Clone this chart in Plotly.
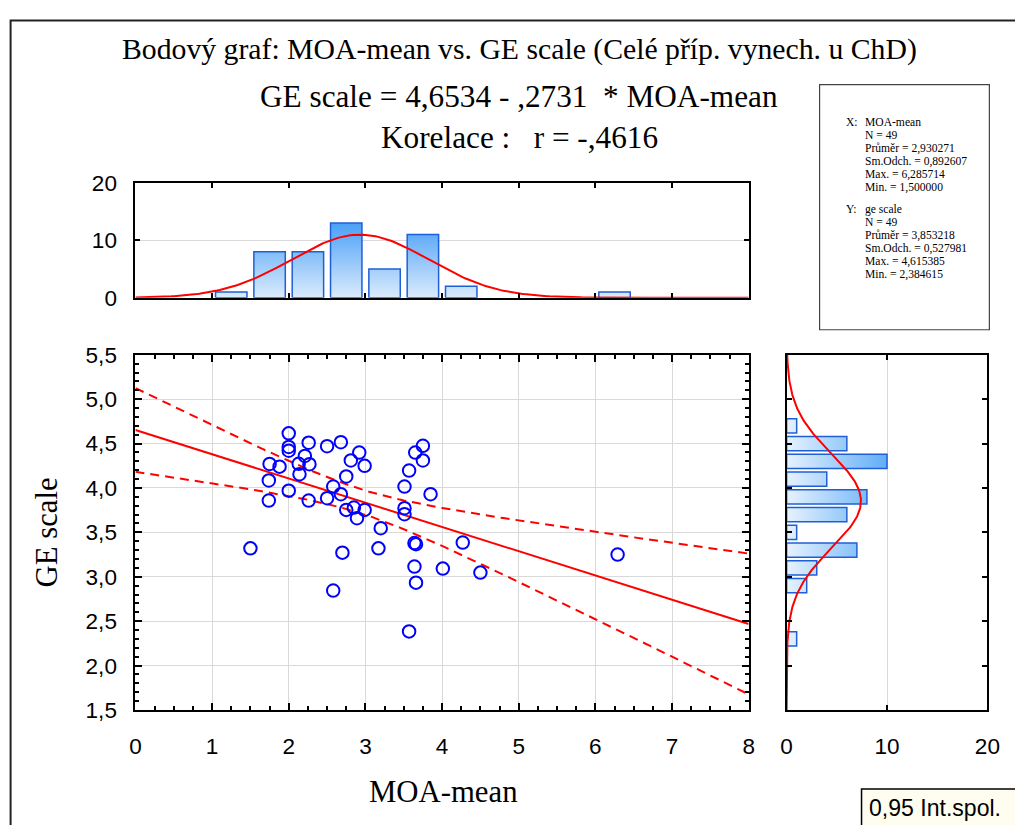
import numpy as np
import plotly.graph_objects as go

W, H = 1015, 825

# ---------------- data ----------------
moa_mean = [2.00, 2.00, 2.00, 2.26, 2.50, 2.68, 1.75, 1.88, 2.21, 2.13,
            2.27, 2.14, 1.74, 2.00, 1.74, 2.26, 2.50, 2.58, 2.68, 2.75,
            2.81, 2.75, 1.50, 2.70, 2.58, 2.92, 2.99, 2.85, 2.99, 2.89,
            3.20, 3.17, 3.75, 3.65, 3.75, 3.57, 3.51, 3.85, 3.51, 3.51,
            3.66, 3.64, 4.01, 4.27, 4.50, 3.66, 3.57, 6.29, 3.64]
ge_scale = [4.615, 4.462, 4.420, 4.510, 4.470, 4.515, 4.270, 4.240, 4.360, 4.272,
            4.268, 4.155, 4.085, 3.970, 3.858, 3.858, 3.885, 4.016, 3.930, 3.753,
            4.310, 4.130, 3.320, 3.272, 2.845, 4.399, 4.249, 3.780, 3.753, 3.660,
            3.547, 3.320, 4.475, 4.399, 4.310, 4.196, 4.016, 3.930, 3.772, 3.705,
            3.367, 3.115, 3.092, 3.385, 3.047, 2.934, 2.385, 3.250, 3.380]

# statistics shown in the box
N = 49
x_mean, x_sd, x_max, x_min = 2.930271, 0.892607, 6.285714, 1.500000
y_mean, y_sd, y_max, y_min = 3.853218, 0.527981, 4.615385, 2.384615
intercept, slope, r_corr = 4.6534, -0.2731, -0.4616
t_975 = 2.0117  # t(0.975; 47)

# histogram counts
x_bin_edges = [1.0, 1.5, 2.0, 2.5, 3.0, 3.5, 4.0, 4.5, 5.0, 5.5, 6.0, 6.5]
x_counts = [1, 8, 8, 13, 5, 11, 2, 0, 0, 0, 1]
y_bin_edges = [2.2, 2.4, 2.6, 2.8, 3.0, 3.2, 3.4, 3.6, 3.8, 4.0, 4.2, 4.4, 4.6, 4.8]
y_counts = [1, 0, 0, 2, 3, 7, 1, 6, 8, 4, 10, 6, 1]

x_ticks = [0, 1, 2, 3, 4, 5, 6, 7, 8]

# ---------------- layout helpers ----------------
# correction for how the page ends up in the photograph
AX, BX = 5.4, 0.9825
AY, BY = 12.5, 0.969
FS = 2 / (BX + BY)

def px(v):
    return ((v - AX) / BX) / W

def py(v):
    return 1 - ((v - AY) / BY) / H

def fs(v):
    return v * FS

def bar_polys(edges, counts, frac, horizontal=False):
    a_list, b_list = [], []
    for i, c in enumerate(counts):
        if c == 0:
            continue
        lo, hi = edges[i], edges[i + 1]
        m = (hi - lo) * (1 - frac) / 2
        a, b = lo + m, hi - m
        pos = [a, a, b, b, a, None]
        val = [0, c, c, 0, 0, None]
        if horizontal:
            a_list += val
            b_list += pos
        else:
            a_list += pos
            b_list += val
    return a_list, b_list

SANS = "Liberation Sans, Arial, sans-serif"
SERIF = "Liberation Serif, Times New Roman, serif"
RED = "#ff0000"
BLUE_EDGE = "#1f5fd6"
GRID = "#d9d9d9"

fig = go.Figure()

# ---------------- main scatter ----------------
xs = np.linspace(0, 8, 161)
yhat = intercept + slope * xs
s_res = y_sd * np.sqrt(1 - r_corr ** 2) * np.sqrt((N - 1) / (N - 2))
sxx = (N - 1) * x_sd ** 2
se = s_res * np.sqrt(1 / N + (xs - x_mean) ** 2 / sxx)

fig.add_trace(go.Scatter(x=xs, y=yhat + t_975 * se, mode="lines",
                         line=dict(color=RED, width=2, dash="9px,6px"),
                         xaxis="x", yaxis="y", hoverinfo="skip"))
fig.add_trace(go.Scatter(x=xs, y=yhat - t_975 * se, mode="lines",
                         line=dict(color=RED, width=2, dash="9px,6px"),
                         xaxis="x", yaxis="y", hoverinfo="skip"))
fig.add_trace(go.Scatter(x=xs, y=yhat, mode="lines",
                         line=dict(color=RED, width=2),
                         xaxis="x", yaxis="y", hoverinfo="skip"))
fig.add_trace(go.Scatter(x=moa_mean, y=ge_scale, mode="markers",
                         marker=dict(symbol="circle-open", size=12.5,
                                     color="#0000ff", line=dict(width=2, color="#0000ff")),
                         xaxis="x", yaxis="y"))

# ---------------- top histogram ----------------
hx, hy = bar_polys(x_bin_edges, x_counts, 0.82)
fig.add_trace(go.Scatter(x=hx, y=hy, mode="lines", fill="toself",
                         line=dict(color=BLUE_EDGE, width=1.5),
                         fillgradient=dict(type="vertical",
                                           colorscale=[[0, "#e2effc"], [1, "#4ca1f7"]],
                                           start=0, stop=max(x_counts)),
                         xaxis="x2", yaxis="y2", hoverinfo="skip"))
gx = np.linspace(0, 8, 241)
bw_x = x_bin_edges[1] - x_bin_edges[0]
gy = N * bw_x / (x_sd * np.sqrt(2 * np.pi)) * np.exp(-0.5 * ((gx - x_mean) / x_sd) ** 2)
fig.add_trace(go.Scatter(x=gx, y=gy, mode="lines", line=dict(color=RED, width=2),
                         xaxis="x2", yaxis="y2", hoverinfo="skip"))

# ---------------- right histogram ----------------
vx, vy = bar_polys(y_bin_edges, y_counts, 0.8, horizontal=True)
fig.add_trace(go.Scatter(x=vx, y=vy, mode="lines", fill="toself",
                         line=dict(color=BLUE_EDGE, width=1.5),
                         fillgradient=dict(type="horizontal",
                                           colorscale=[[0, "#e6f2fe"], [1, "#5eacf7"]],
                                           start=0, stop=max(y_counts)),
                         xaxis="x3", yaxis="y3", hoverinfo="skip"))
gyy = np.linspace(1.5, 5.5, 241)
bw_y = y_bin_edges[1] - y_bin_edges[0]
gxx = N * bw_y / (y_sd * np.sqrt(2 * np.pi)) * np.exp(-0.5 * ((gyy - y_mean) / y_sd) ** 2)
fig.add_trace(go.Scatter(x=gxx, y=gyy, mode="lines", line=dict(color=RED, width=2),
                         xaxis="x3", yaxis="y3", hoverinfo="skip"))

# ---------------- axes ----------------
tickfont = dict(family=SANS, size=fs(22), color="black")
common = dict(showline=True, linecolor="black", linewidth=2, mirror="ticks",
              ticks="inside", tickcolor="black", tickwidth=2, zeroline=False,
              gridcolor=GRID, gridwidth=1, tickfont=tickfont, fixedrange=True)

main_xdom = [px(135), px(749)]
main_ydom = [py(710), py(355)]

fig.update_layout(
    xaxis=dict(domain=main_xdom, anchor="y", range=[0, 8], tickvals=x_ticks,
               ticklen=7, showgrid=True, ticklabelstandoff=15,
               minor=dict(dtick=0.25, tick0=0, ticks="inside", ticklen=4,
                          tickwidth=1.5, tickcolor="black", showgrid=False),
               **common),
    yaxis=dict(domain=main_ydom, anchor="x", range=[1.5, 5.5], dtick=0.5, tick0=1.5,
               tickformat=".1f", ticklen=7, showgrid=True, ticklabelstandoff=12,
               minor=dict(dtick=0.1, tick0=1.5, ticks="inside", ticklen=4,
                          tickwidth=1.5, tickcolor="black", showgrid=False),
               **common),
    xaxis2=dict(domain=main_xdom, anchor="y2", range=[0, 8], tickvals=x_ticks,
                ticklen=5, showticklabels=False, showgrid=False, **common),
    yaxis2=dict(domain=[py(298), py(183)], anchor="x2", range=[0, 20], dtick=10,
                ticklen=5, showgrid=True, ticklabelstandoff=12, **common),
    xaxis3=dict(domain=[px(787), px(988)], anchor="y3", range=[0, 20], dtick=10,
                ticklen=5, showgrid=True, ticklabelstandoff=15, **common),
    yaxis3=dict(domain=main_ydom, anchor="x3", range=[1.5, 5.5], dtick=0.5, tick0=1.5,
                ticklen=5, showticklabels=False, showgrid=False, **common),
)

# ---------------- texts ----------------
ann = []

def text(x, y, s, size, family=SERIF, xanchor="center", angle=0, yanchor="middle"):
    ann.append(dict(x=px(x), y=py(y), xref="paper", yref="paper", text=s,
                    showarrow=False, xanchor=xanchor, yanchor=yanchor, align="left",
                    textangle=angle, borderpad=0,
                    font=dict(family=family, size=size, color="black")))

def dec(v, nd):
    s = f"{abs(v):.{nd}f}".replace(".", ",")
    if s.startswith("0,"):
        s = s[1:]
    return s

text(520, 50, "Bodový graf: MOA-mean vs. GE scale (Celé příp. vynech. u ChD)", fs(29))
text(519, 97, f"GE scale = {dec(intercept, 4)} - {dec(slope, 4)}  * MOA-mean", fs(30.5))
text(520, 138, f"Korelace :   r = -{dec(r_corr, 4)}", fs(30.5))
text(443, 792, "MOA-mean", fs(30))
text(46, 533, "GE scale", fs(30), angle=-90)

def num(v):
    return f"{v:.6f}".replace(".", ",")

STAT_FS = fs(11.3)
STAT_LINE = 13.0  # line pitch of the stats text

def block(lines):
    span = f'<span style="font-size:{STAT_FS:.2f}px">'
    return "<br>".join(span + s + "</span>" for s in lines)

x_lines = ["MOA-mean", f"N = {N}", f"Průměr = {num(x_mean)}",
           f"Sm.Odch. = {num(x_sd)}", f"Max. = {num(x_max)}", f"Min. = {num(x_min)}"]
y_lines = ["ge scale", f"N = {N}", f"Průměr = {num(y_mean)}",
           f"Sm.Odch. = {num(y_sd)}", f"Max. = {num(y_max)}", f"Min. = {num(y_min)}"]

X_TOP, Y_TOP = 123, 210
text(845, X_TOP, "X:", STAT_FS, xanchor="left")
text(864, X_TOP + 2.5 * STAT_LINE, block(x_lines), STAT_LINE / 1.3, xanchor="left")
text(845, Y_TOP, "Y:", STAT_FS, xanchor="left")
text(864, Y_TOP + 2.5 * STAT_LINE, block(y_lines), STAT_LINE / 1.3, xanchor="left")

text(868, 808, "0,95 Int.spol.", fs(22.5), family=SANS, xanchor="left")

shapes = [
    dict(type="rect", xref="paper", yref="paper", x0=px(10), x1=px(1040), y0=py(850), y1=py(21),
         line=dict(color="#222", width=2), layer="below"),
    dict(type="rect", xref="paper", yref="paper", x0=px(820), x1=px(990), y0=py(330), y1=py(85),
         line=dict(color="#444", width=1.2), fillcolor="white", layer="below"),
    dict(type="rect", xref="paper", yref="paper", x0=px(862), x1=px(1040), y0=py(850), y1=py(789),
         line=dict(color="black", width=1.5), fillcolor="#fffdf0", layer="below"),
]

fig.update_layout(
    width=W, height=H, autosize=False,
    margin=dict(l=0, r=0, t=0, b=0, pad=0),
    paper_bgcolor="white", plot_bgcolor="white",
    showlegend=False, separators=", ",
    annotations=ann, shapes=shapes,
)

fig.write_html("out.html", config={"responsive": False})
